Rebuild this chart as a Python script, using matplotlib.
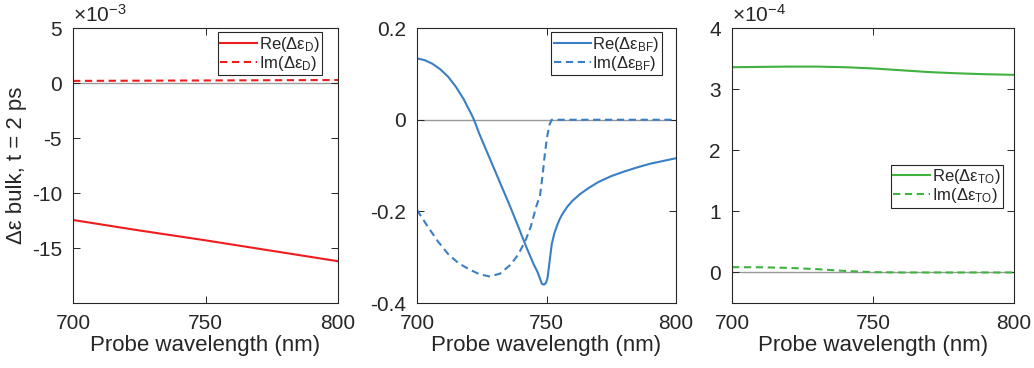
import matplotlib
matplotlib.use("Agg")
import matplotlib.pyplot as plt
from matplotlib.ticker import FuncFormatter

plt.rcParams['font.family'] = ['Liberation Sans', 'DejaVu Sans']
plt.rcParams['mathtext.fontset'] = 'custom'
plt.rcParams['mathtext.rm'] = 'Liberation Sans'
plt.rcParams['mathtext.it'] = 'Liberation Sans:italic'

# panel 1: Drude term
wl_d = [700, 725, 750, 775, 800]
re_d = [-12.45e-3, -13.4e-3, -14.3e-3, -15.25e-3, -16.2e-3]
im_d = [0.20e-3, 0.22e-3, 0.24e-3, 0.26e-3, 0.28e-3]

# panel 2: band filling term
wl_bf_re = [700, 703, 706, 709, 712, 715, 718, 721, 722, 724, 727, 730, 733, 736, 739,
            742, 745, 746.5, 747.5, 748.2, 749, 749.8, 750.4, 751, 751.5, 752, 753, 754,
            755, 756, 758, 760, 763, 766, 770, 775, 780, 785, 790, 795, 800]
re_bf = [0.134, 0.130, 0.122, 0.110, 0.094, 0.072, 0.045, 0.012, 0.0, -0.03, -0.07,
         -0.11, -0.15, -0.19, -0.232, -0.275, -0.315, -0.332, -0.347, -0.358, -0.36,
         -0.356, -0.345, -0.318, -0.295, -0.272, -0.248, -0.232, -0.218, -0.207, -0.19,
         -0.177, -0.162, -0.150, -0.136, -0.123, -0.113, -0.104, -0.096, -0.09, -0.084]
wl_bf_im = [700, 704, 708, 712, 716, 720, 724, 728, 732, 736, 739, 742, 744, 746,
            747.5, 748.5, 749.4, 750.3, 751.2, 752, 760, 780, 800]
im_bf = [-0.197, -0.232, -0.265, -0.293, -0.313, -0.326, -0.337, -0.342, -0.336,
         -0.317, -0.295, -0.262, -0.232, -0.19, -0.165, -0.12, -0.072, -0.035, -0.01,
         0.0, 0.0, 0.0, 0.0]

# panel 3: thermo-optic term
wl_to = [700, 710, 720, 730, 740, 750, 760, 770, 780, 790, 800]
re_to = [3.36e-4, 3.365e-4, 3.37e-4, 3.37e-4, 3.36e-4, 3.34e-4, 3.31e-4, 3.28e-4,
         3.26e-4, 3.245e-4, 3.235e-4]
im_to = [0.087e-4, 0.085e-4, 0.075e-4, 0.055e-4, 0.025e-4, 0.005e-4, 0.0, 0.0,
         0.0, 0.0, 0.0]

red = '#ee1c1c'
blue = '#3a7ec4'
green = '#3fb23f'
spine_c = '#262626'

fig = plt.figure(figsize=(10.34, 3.68), dpi=100)
axs = [fig.add_axes([0.0706, 0.1766, 0.2563, 0.747]),
       fig.add_axes([0.4033, 0.1766, 0.2505, 0.747]),
       fig.add_axes([0.708, 0.1766, 0.2727, 0.747])]


def style(ax):
    ax.set_xlim(700, 800)
    ax.set_xticks([700, 750, 800])
    ax.tick_params(direction='in', top=True, right=True, labelsize=15,
                   colors=spine_c, length=5, width=0.7, pad=8)
    for s in ax.spines.values():
        s.set_color(spine_c)
        s.set_linewidth(0.8)
    ax.set_xlabel('Probe wavelength (nm)', fontsize=16, color=spine_c, labelpad=1)
    ax.axhline(0, color='#999999', lw=1.0, zorder=1)


def scaled(k):
    return FuncFormatter(lambda v, p: '%g' % round(v / k, 6))


leg_kw = dict(fontsize=12, frameon=True, fancybox=False, edgecolor=spine_c,
              handlelength=2.2, handletextpad=0.1, borderpad=0.15, labelspacing=0.0,
              borderaxespad=0.0, framealpha=1)


def legend(ax, loc, anchor):
    l = ax.legend(loc=loc, bbox_to_anchor=anchor, **leg_kw)
    l.get_frame().set_linewidth(0.8)
    for t in l.get_texts():
        t.set_color(spine_c)


# panel 1
ax = axs[0]
style(ax)
ax.plot(wl_d, re_d, color=red, lw=1.5, label='Re(Δε$_{\\mathrm{D}}$)')
ax.plot(wl_d, im_d, color=red, lw=1.5, ls=(0, (3.5, 2.2)), label='Im(Δε$_{\\mathrm{D}}$)')
ax.set_ylim(-20e-3, 5e-3)
ax.set_yticks([5e-3, 0, -5e-3, -10e-3, -15e-3])
ax.yaxis.set_major_formatter(scaled(1e-3))
ax.text(0.0, 1.01, '×10$^{-3}$', transform=ax.transAxes, fontsize=15,
        color=spine_c, va='bottom', ha='left')
ax.set_ylabel('Δε bulk, t = 2 ps', fontsize=16, color=spine_c, labelpad=3)
legend(ax, 'upper right', (0.94, 0.985))

# panel 2
ax = axs[1]
style(ax)
ax.plot(wl_bf_re, re_bf, color=blue, lw=1.5, label='Re(Δε$_{\\mathrm{BF}}$)')
ax.plot(wl_bf_im, im_bf, color=blue, lw=1.5, ls=(0, (3.5, 2.2)),
        label='Im(Δε$_{\\mathrm{BF}}$)')
ax.set_ylim(-0.4, 0.2)
ax.set_yticks([-0.4, -0.2, 0, 0.2])
ax.yaxis.set_major_formatter(scaled(1))
legend(ax, 'upper right', (0.946, 0.985))

# panel 3
ax = axs[2]
style(ax)
ax.plot(wl_to, re_to, color=green, lw=1.5, label='Re(Δε$_{\\mathrm{TO}}$)')
ax.plot(wl_to, im_to, color=green, lw=1.5, ls=(0, (3.5, 2.2)),
        label='Im(Δε$_{\\mathrm{TO}}$)')
ax.set_ylim(-0.5e-4, 4e-4)
ax.set_yticks([0, 1e-4, 2e-4, 3e-4, 4e-4])
ax.yaxis.set_major_formatter(scaled(1e-4))
ax.text(0.0, 1.01, '×10$^{-4}$', transform=ax.transAxes, fontsize=15,
        color=spine_c, va='bottom', ha='left')
legend(ax, 'center right', (0.96, 0.425))

fig.savefig('out.png', dpi=100)
